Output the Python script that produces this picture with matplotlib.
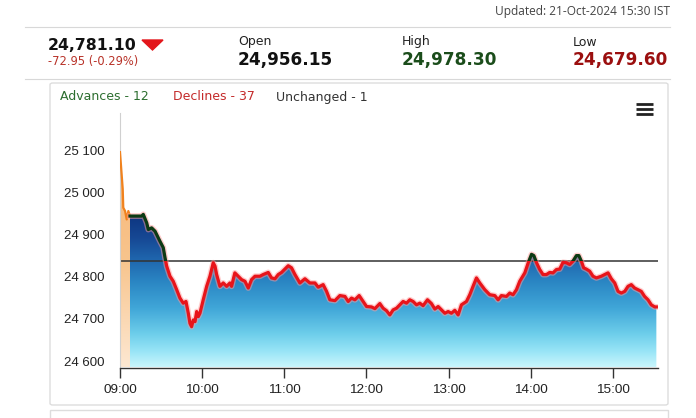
import numpy as np
import matplotlib
matplotlib.use('Agg')
import matplotlib.pyplot as plt
import matplotlib.transforms as mtransforms
from matplotlib.colors import LinearSegmentedColormap
from matplotlib.patches import Rectangle, FancyBboxPatch, Polygon

# header figures
last_price = 24781.10
change = -72.95
change_pct = -0.29
open_price = 24956.15
high_price = 24978.30
low_price = 24679.60
prev_close = last_price - change
updated = 'Updated: 21-Oct-2024 15:30 IST'
advances, declines, unchanged = 12, 37, 1

# pre-open (minutes after 09:00, index level)
pre_t = [0, 2.0, 2.4, 3.7, 4.9, 6.1, 7.3]
pre_v = [25112, 25024, 24980, 24972, 24952, 24972, 24960]

# session (minutes after 09:00, index level)
t = [7.3, 15.8, 17.0, 19.5, 20.7, 23.1, 25.6, 29.2, 31.6, 32.9, 34.1, 36.5, 38.9,
     41.4, 43.8, 46.2, 48.2, 49.9, 51.1, 52.3, 53.5, 54.8, 56.0, 57.2, 58.4, 60.8,
     63.3, 65.7, 68.1, 69.4, 70.6, 73.0, 75.4, 77.9, 80.3, 81.5, 83.9, 86.4, 88.8,
     91.3, 93.7, 96.1, 98.6, 102.2, 104.6, 108.3, 110.7, 113.2, 115.6, 118.0, 120.5,
     122.9, 125.3, 127.8, 131.4, 135.1, 138.7, 142.4, 144.8, 148.4, 150.9, 153.3,
     157.0, 160.6, 164.3, 166.7, 169.1, 171.6, 174.7, 177.6, 180.1, 183.7, 186.2,
     189.8, 192.2, 194.7, 197.1, 199.5, 202.0, 204.4, 206.8, 209.3, 211.7, 214.1,
     216.6, 219.0, 221.4, 224.6, 227.5, 230.0, 232.4, 234.8, 237.3, 239.7, 242.1,
     244.6, 247.0, 249.4, 253.1, 255.5, 257.9, 260.4, 262.8, 266.5, 270.1, 273.8,
     276.2, 278.6, 282.3, 284.7, 287.1, 289.6, 292.0, 295.7, 298.2, 300.6, 302.3,
     304.3, 306.6, 309.0, 311.5, 313.9, 316.3, 318.8, 321.2, 323.6, 326.1, 328.5,
     330.9, 333.4, 335.2, 337.0, 338.7, 340.6, 343.1, 345.5, 348.0, 351.6, 354.1,
     356.5, 358.9, 361.4, 363.8, 366.2, 368.7, 371.1, 373.5, 375.9, 378.4, 380.8,
     383.2, 385.7, 388.1, 390.6, 391.8]
v = [24960, 24960, 24964, 24944, 24928, 24932, 24924, 24900, 24885, 24861, 24841,
     24817, 24805, 24785, 24765, 24753, 24757, 24729, 24705, 24697, 24713, 24709,
     24733, 24721, 24729, 24761, 24793, 24817, 24849, 24841, 24821, 24793, 24801,
     24793, 24801, 24793, 24825, 24817, 24809, 24805, 24789, 24809, 24817, 24817,
     24821, 24826, 24813, 24811, 24821, 24826, 24834, 24842, 24837, 24821, 24801,
     24811, 24801, 24801, 24791, 24797, 24781, 24761, 24759, 24771, 24769, 24757,
     24765, 24761, 24771, 24757, 24745, 24744, 24740, 24752, 24741, 24735, 24725,
     24737, 24741, 24749, 24757, 24753, 24761, 24757, 24749, 24753, 24747, 24761,
     24752, 24739, 24745, 24737, 24729, 24733, 24729, 24736, 24725, 24749, 24757,
     24773, 24793, 24813, 24801, 24785, 24773, 24771, 24761, 24771, 24769, 24777,
     24773, 24785, 24805, 24825, 24849, 24869, 24866, 24849, 24833, 24821, 24821,
     24826, 24825, 24833, 24834, 24850, 24849, 24845, 24853, 24866, 24866, 24853,
     24837, 24834, 24829, 24817, 24813, 24817, 24821, 24825, 24811, 24801, 24781,
     24777, 24781, 24793, 24797, 24789, 24785, 24781, 24769, 24761, 24749, 24744,
     24744]

x_ticks = [0, 60, 120, 180, 240, 300, 360]
x_labels = ['09:00', '10:00', '11:00', '12:00', '13:00', '14:00', '15:00']
y_ticks = [24600, 24700, 24800, 24900, 25000, 25100]

W, H = 696, 418
fig = plt.figure(figsize=(W / 100, H / 100), dpi=100)
fig.patch.set_facecolor('white')

def fx(px):
    return px / W

def fy(py):
    return 1 - py / H

hfont = 'DejaVu Sans'
cfont = 'Liberation Sans'

# header
fig.text(fx(670), fy(12), updated, ha='right', va='center', fontsize=8.6, color='#444444',
         family='Open Sans')
fig.add_artist(plt.Line2D([fx(25), fx(670)], [fy(27), fy(27)], color='#d8d8d8', lw=0.8))
fig.text(fx(48), fy(45), f'{last_price:,.2f}', ha='left', va='center', fontsize=11.3,
         fontweight='bold', color='#111111', family=hfont)
fig.add_artist(Polygon([[fx(142), fy(40)], [fx(163), fy(40)], [fx(152.5), fy(50)]],
                       closed=True, color='#e3161b', transform=fig.transFigure))
fig.text(fx(48), fy(62), f'{change:.2f} ({change_pct:.2f}%)', ha='left', va='center',
         fontsize=8.3, color='#b83228', family=hfont)
for px, label, val, col in [(238, 'Open', open_price, '#111111'),
                            (402, 'High', high_price, '#1b4d1b'),
                            (573, 'Low', low_price, '#9b0f0f')]:
    fig.text(fx(px), fy(42), label, ha='left', va='center', fontsize=9, color='#222222', family=hfont)
    fig.text(fx(px), fy(60), f'{val:,.2f}', ha='left', va='center', fontsize=12.2,
             fontweight='bold', color=col, family=hfont)
fig.add_artist(plt.Line2D([fx(25), fx(670)], [fy(79), fy(79)], color='#d8d8d8', lw=0.8))

# chart card
fig.add_artist(FancyBboxPatch((fx(50), fy(405)), fx(618), (405 - 83) / H,
                              boxstyle='round,pad=0,rounding_size=0.004', fc='white',
                              ec='#dddddd', lw=1.0, transform=fig.transFigure, zorder=0))
fig.add_artist(Rectangle((fx(50), fy(430)), fx(618), 20 / H, fc='white', ec='#dddddd',
                         lw=1.0, transform=fig.transFigure, zorder=0))
fig.text(fx(60), fy(97), f'Advances - {advances}', ha='left', va='center', fontsize=9,
         color='#2c6e2f', family=hfont)
fig.text(fx(173), fy(97), f'Declines - {declines}', ha='left', va='center', fontsize=9,
         color='#c42a2a', family=hfont)
fig.text(fx(276), fy(97), f'Unchanged - {unchanged}', ha='left', va='center', fontsize=9,
         color='#333333', family=hfont)
for py in (104, 109, 114):
    fig.add_artist(plt.Line2D([fx(636), fx(653)], [fy(py), fy(py)], color='#222222', lw=2.0,
                              solid_capstyle='butt'))

# axes
ax = fig.add_axes([fx(120), fy(367.5), fx(658 - 120), (367.5 - 113) / H])
ax.set_facecolor('none')
ymin, ymax = 24600, 25205
xmax = 393
ax.set_xlim(0, xmax)
ax.set_ylim(ymin, ymax)

# blue gradient fill under session line
cmap = LinearSegmentedColormap.from_list('blue', [
    (0.0, '#c8f6fd'), (0.111, '#95e3f6'), (0.222, '#6ccdea'), (0.389, '#40a6d8'),
    (0.556, '#2b87c4'), (0.708, '#1f66ae'), (0.85, '#164894'), (1.0, '#0d3580')])
grad = np.linspace(0, 1, 256).reshape(-1, 1)
img = ax.imshow(grad, cmap=cmap, origin='lower', aspect='auto',
                extent=[0, xmax, ymin, 24960], zorder=1)
poly = ax.fill_between(t, v, ymin, color='none', lw=0)
img.set_clip_path(poly.get_paths()[0], transform=ax.transData)

# pre-open fill, orange gradient
ocmap = LinearSegmentedColormap.from_list('orange', ['#fde8d2', '#f8c48c', '#f6b576'])
oimg = ax.imshow(grad, cmap=ocmap, origin='lower', aspect='auto',
                 extent=[0, xmax, ymin, 25112], zorder=1)
opoly = ax.fill_between(pre_t, pre_v, ymin, color='none', lw=0)
oimg.set_clip_path(opoly.get_paths()[0], transform=ax.transData)
ax.plot(pre_t, pre_v, color='#f0821e', lw=1.6, zorder=3)

# previous close line
ax.axhline(prev_close, color='#333333', lw=1.1, zorder=2)

# session line: red below prev close, dark green above
ax.plot(t, v, color='#ff9b9b', lw=4.2, alpha=0.5, zorder=3, solid_joinstyle='round')
red, = ax.plot(t, v, color='#e8141a', lw=2.3, zorder=4, solid_joinstyle='round')
green, = ax.plot(t, v, color='#0c3a14', lw=2.3, zorder=5, solid_joinstyle='round')
red.set_clip_path(Rectangle((0, ymin), xmax, prev_close - ymin, transform=ax.transData))
green.set_clip_path(Rectangle((0, prev_close), xmax, ymax - prev_close, transform=ax.transData))

ax.set_xticks(x_ticks)
ax.set_xticklabels(x_labels)
ax.set_yticks(y_ticks)
ax.set_yticklabels([f'{y:,}'.replace(',', ' ') for y in y_ticks])
for s in ('top', 'right'):
    ax.spines[s].set_visible(False)
ax.spines['left'].set_color('#d0d0d0')
ax.spines['left'].set_linewidth(0.8)
ax.spines['bottom'].set_color('#333333')
ax.spines['bottom'].set_linewidth(1.0)
ax.tick_params(axis='x', length=7, width=1.0, color='#333333', pad=5,
               labelsize=9.7, labelcolor='#222222')
ax.tick_params(axis='y', length=0, pad=11, labelsize=9.5, labelcolor='#222222')
for lab in ax.get_xticklabels() + ax.get_yticklabels():
    lab.set_family(cfont)
offset = mtransforms.ScaledTranslation(0, 6.5 / 100, fig.dpi_scale_trans)
for lab in ax.get_yticklabels():
    lab.set_transform(lab.get_transform() + offset)

fig.savefig('out.png', dpi=100)
